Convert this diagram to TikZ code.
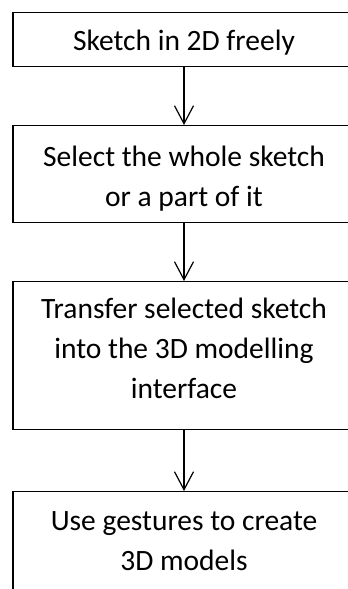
\documentclass[tikz,border=0pt]{standalone}
\usepackage{fontspec}
\setmainfont{Carlito}
\usetikzlibrary{arrows.meta}
\tikzset{
  stepbox/.style={draw=black, line width=1.2pt, rectangle, anchor=north,
    minimum width=342pt, inner xsep=0pt, inner ysep=0pt,
    font=\fontsize{29.5}{40}\selectfont},
  flow/.style={draw=black, line width=1.2pt,
    -{Straight Barb[length=18pt,width=19pt,line width=1.2pt]}},
}
\newcommand{\boxlines}[1]{\begin{tabular}[t]{@{}c@{}}#1\end{tabular}}
\begin{document}
\begin{tikzpicture}[x=1pt,y=-1pt]
  \useasboundingbox (0,0) rectangle (348,589);
  \clip (0,0) rectangle (348,589);
  \node[stepbox, text height=38.5pt, text depth=15.5pt] (b1) at (184,11.5)
    {\boxlines{Sketch in 2D freely}};
  \node[stepbox, text height=41pt, text depth=56pt] (b2) at (184,125)
    {\boxlines{Select the whole sketch\\or a part of it}};
  \node[stepbox, text height=37pt, text depth=111pt] (b3) at (184,281)
    {\boxlines{Transfer selected sketch\\into the 3D modelling\\interface}};
  \node[stepbox, text height=39pt, text depth=90pt] (b4) at (184,491)
    {\boxlines{Use gestures to create\\3D models}};
  \draw[flow] (b1.south) -- (b2.north);
  \draw[flow] (b2.south) -- (b3.north);
  \draw[flow] (b3.south) -- (b4.north);
\end{tikzpicture}
\end{document}
